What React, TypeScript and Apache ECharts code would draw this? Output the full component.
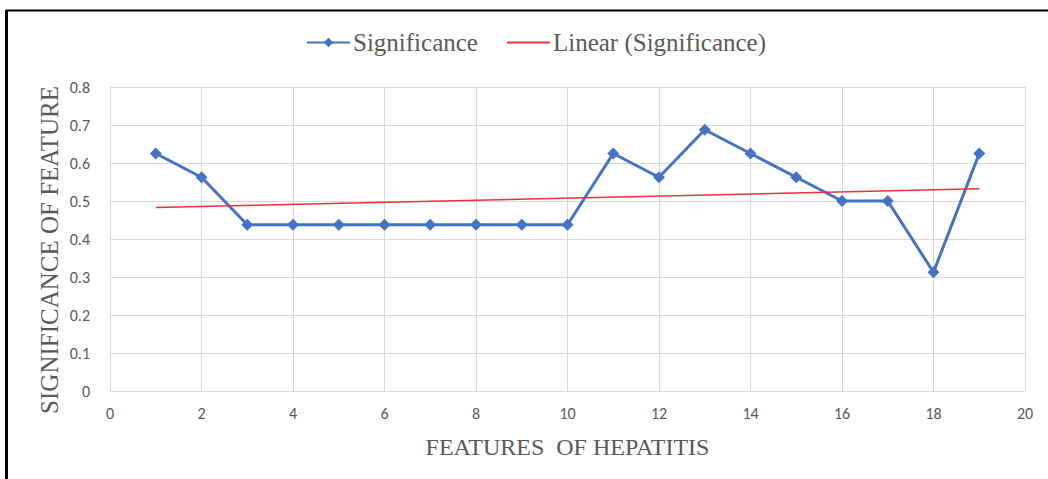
import React, { useEffect, useRef } from "react";
import * as echarts from "echarts";

const features = [1, 2, 3, 4, 5, 6, 7, 8, 9, 10, 11, 12, 13, 14, 15, 16, 17, 18, 19];
const significance = [0.625, 0.5625, 0.4375, 0.4375, 0.4375, 0.4375, 0.4375, 0.4375, 0.4375, 0.4375, 0.625, 0.5625, 0.6875, 0.625, 0.5625, 0.5, 0.5, 0.3125, 0.625];
const trendX = [1, 19];
const trendY = [0.483, 0.532];

export default function App() {
  const ref = useRef<HTMLDivElement>(null);
  useEffect(() => {
    const chart = echarts.init(ref.current!, null, { renderer: "svg" });
    const serif = "'Liberation Serif', 'Times New Roman', serif";
    const sans = "Carlito, 'Liberation Sans', 'DejaVu Sans', sans-serif";
    chart.setOption({
      animation: false,
      backgroundColor: "#ffffff",
      legend: {
        top: 25,
        left: 301,
        itemWidth: 43,
        itemHeight: 12,
        itemGap: 28,
        textStyle: { fontFamily: serif, fontSize: 25, color: "#595959", padding: [0, 0, 0, -2] },
        data: [
          { name: "Significance" },
          {
            name: "Linear (Significance)",
            itemStyle: { opacity: 0, color: "rgba(0,0,0,0)", borderColor: "rgba(0,0,0,0)", borderWidth: 0 },
          },
        ],
      },
      grid: { left: 110, right: 23, top: 87, bottom: 88 },
      xAxis: {
        type: "value",
        min: 0,
        max: 20,
        interval: 2,
        name: "FEATURES  OF HEPATITIS",
        nameLocation: "middle",
        nameGap: 44,
        nameTextStyle: { fontFamily: serif, fontSize: 24, color: "#595959" },
        axisLine: { show: false },
        axisTick: { show: false },
        axisLabel: { fontFamily: sans, fontSize: 16, color: "#595959", margin: 14 },
        splitLine: { show: true, lineStyle: { color: "#d9d9d9", width: 1 } },
      },
      yAxis: {
        type: "value",
        min: 0,
        max: 0.8,
        interval: 0.1,
        axisLine: { show: false },
        axisTick: { show: false },
        axisLabel: { fontFamily: sans, fontSize: 16, color: "#595959", margin: 20, formatter: (v: number) => String(Math.round(v * 10) / 10) },
        splitLine: { show: true, lineStyle: { color: "#d9d9d9", width: 1 } },
      },
      graphic: [
        { type: "line", shape: { x1: 6, y1: 10.5, x2: 1048, y2: 10.5 }, style: { stroke: "#000", lineWidth: 2 } },
        { type: "line", shape: { x1: 6.5, y1: 10, x2: 6.5, y2: 479 }, style: { stroke: "#000", lineWidth: 3 } },
        {
          type: "text",
          x: 49,
          y: 250,
          rotation: Math.PI / 2,
          style: {
            text: "SIGNIFICANCE OF FEATURE",
            fontFamily: serif,
            fontSize: 25,
            fill: "#595959",
            align: "center",
            verticalAlign: "middle",
          },
        },
      ],
      series: [
        {
          name: "Significance",
          type: "line",
          data: features.map((x, i) => [x, significance[i]]),
          symbol: "diamond",
          symbolSize: 12,
          itemStyle: { color: "#4472c4" },
          lineStyle: { color: "#4472c4", width: 3 },
          z: 2,
        },
        {
          name: "Linear (Significance)",
          type: "line",
          data: trendX.map((x, i) => [x, trendY[i]]),
          symbol: "none",
          itemStyle: { color: "#e8323c" },
          lineStyle: { color: "#e8323c", width: 1.5 },
          z: 3,
        },
      ],
    });
    return () => chart.dispose();
  }, []);
  return <div ref={ref} style={{ position: "fixed", left: 0, top: 0, width: 1048, height: 479 }} />;
}
